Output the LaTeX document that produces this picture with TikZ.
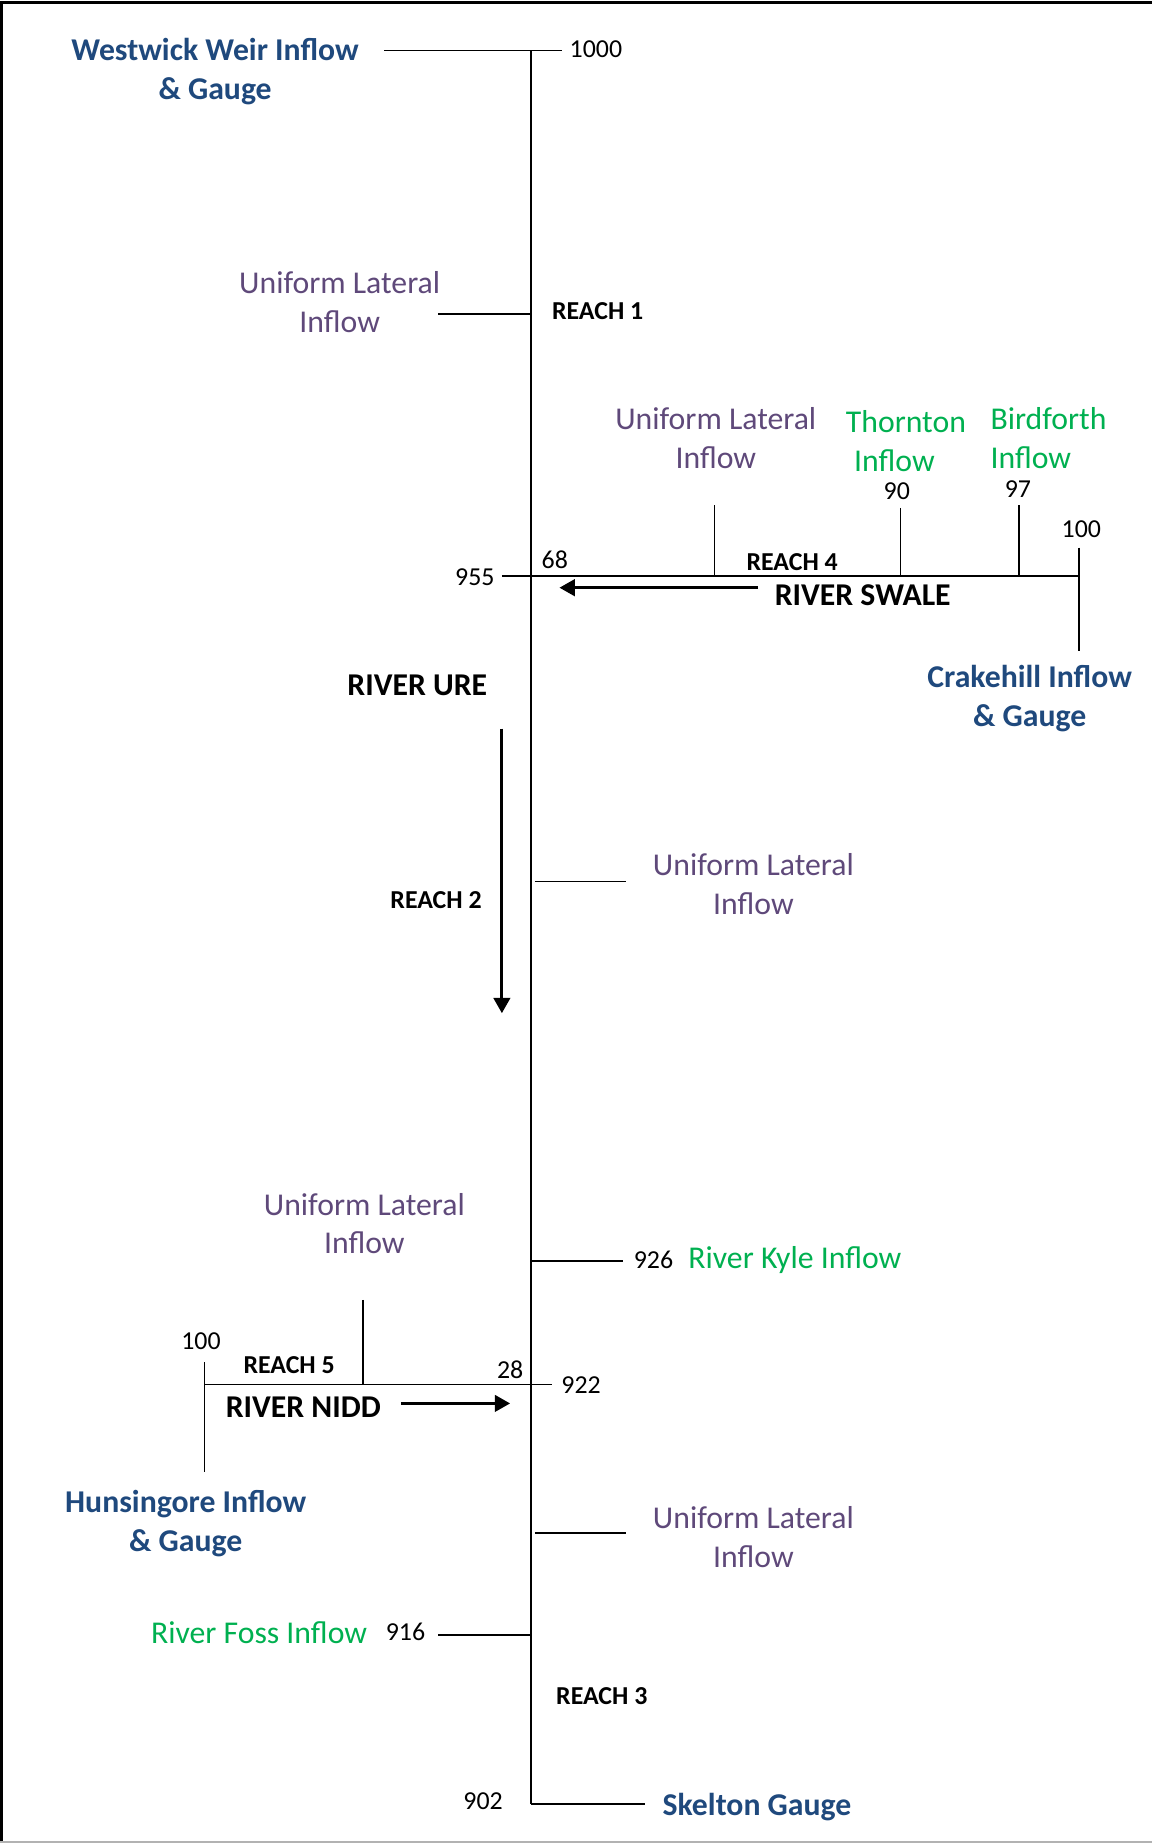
\documentclass[tikz,border=0pt]{standalone}
\usepackage{fontspec}
\setmainfont{Carlito}
\usetikzlibrary{arrows.meta,positioning}

\definecolor{gaugeblue}{RGB}{31,73,125}
\definecolor{lateralpurple}{RGB}{95,73,122}
\definecolor{inflowgreen}{RGB}{0,176,80}

\tikzset{
  gauge/.style={text=gaugeblue, font=\fontsize{13.5}{16.5}\selectfont\bfseries, align=center, inner sep=0pt},
  lateral/.style={text=lateralpurple, font=\fontsize{13.5}{16.5}\selectfont, align=center, inner sep=0pt},
  trib/.style={text=inflowgreen, font=\fontsize{13.5}{16.5}\selectfont, align=left, inner sep=0pt},
  chain/.style={font=\fontsize{11}{13}\selectfont, inner sep=0pt},
  reach/.style={font=\fontsize{11}{13}\selectfont\bfseries, inner sep=0pt},
  river/.style={font=\fontsize{13.5}{16.5}\selectfont\bfseries, inner sep=0pt},
  flow/.style={line width=1.2pt, -{Triangle[length=6.5pt,width=7pt]}},
}

\begin{document}
\begin{tikzpicture}[x=0.5pt,y=-0.5pt,line width=0.7pt]
	\useasboundingbox (0,0) rectangle (980,1568);
	\draw[line width=1.2pt] (1,1568) -- (1,2) -- (980,2);
	\draw[gray!60,line width=0.8pt] (0,1567) -- (980,1567);

	% River Ure
	\path (183,61) node[gauge] (westwick) {Westwick Weir Inflow\\\& Gauge}
		(484,42) node[chain,anchor=west] (ch1000) {1000}
		(289,257) node[lateral] (lat1) {Uniform Lateral\\Inflow}
		(469,265) node[reach,anchor=west] (reach1) {REACH 1}
		(355,583) node[river] (ure) {RIVER URE}
		(371,766) node[reach] (reach2) {REACH 2}
		(641,752) node[lateral] (lat2) {Uniform Lateral\\Inflow}
		(556,1072) node[chain] (ch926) {926}
		(585,1072) node[trib,anchor=west] (kyle) {River Kyle Inflow}
		(641,1308) node[lateral] (lat3) {Uniform Lateral\\Inflow}
		(345,1388) node[chain] (ch916) {916}
		(313,1389) node[trib,anchor=east] (foss) {River Foss Inflow}
		(512,1443) node[reach] (reach3) {REACH 3}
		(411,1532) node[chain] (ch902) {902}
		(644,1537) node[gauge] (skelton) {Skelton Gauge};

	% River Swale
	\path (404,491) node[chain] (ch955) {955}
		(472,476) node[chain] (ch68) {68}
		(609,373) node[lateral] (latsw) {Uniform Lateral\\Inflow}
		(719,375) node[trib,anchor=west] (thornton) {Thornton\\\hspace*{3.5pt}Inflow}
		(842,373) node[trib,anchor=west] (birdforth) {Birdforth\\Inflow}
		(763,418) node[chain] (ch90) {90}
		(866,416) node[chain] (ch97) {97}
		(920,450) node[chain] (ch100s) {100}
		(876,594) node[gauge] (crakehill) {Crakehill Inflow\\\& Gauge}
		(674,478) node[reach] (reach4) {REACH 4}
		(734,506) node[river] (swale) {RIVER SWALE};

	% River Nidd
	\path (310,1041) node[lateral] (latni) {Uniform Lateral\\Inflow}
		(171,1141) node[chain] (ch100n) {100}
		(246,1161) node[reach] (reach5) {REACH 5}
		(434,1165) node[chain] (ch28) {28}
		(477,1178) node[chain,anchor=west] (ch922) {922}
		(258,1197) node[river] (nidd) {RIVER NIDD}
		(158,1296) node[gauge] (hunsingore) {Hunsingore Inflow\\\& Gauge};

	\coordinate (top) at (452,43);
	\coordinate (bot) at (452,1535);
	\coordinate (swj) at (452,490);
	\coordinate (nij) at (452,1178);

	\draw (top) -- (bot);
	\draw (327,43) coordinate (ww) -- (top) -- (478,43) coordinate (t1000);
	\draw (373,267) coordinate (l1) -- (452,267) coordinate (l1j);
	\draw (455,750) coordinate (l2j) -- (533,750) coordinate (l2);
	\draw (452,1073) coordinate (kj) -- (530,1073) coordinate (k);
	\draw (455,1304) coordinate (l3j) -- (533,1304) coordinate (l3);
	\draw (373,1391) coordinate (f) -- (452,1391) coordinate (fj);
	\draw (bot) -- (549,1535) coordinate (sk);

	\draw (427,490) coordinate (t955) -- (swj) -- (918,490) coordinate (swe);
	\draw (608,430) coordinate (lsw) -- (608,490) coordinate (lswj);
	\draw (766,432) coordinate (th) -- (766,490) coordinate (thj);
	\draw (867,430) coordinate (bf) -- (867,490) coordinate (bfj);
	\draw (918,466) coordinate (ck1) -- (918,554) coordinate (ck2);

	\draw (174,1178) coordinate (nie) -- (nij) -- (470,1178) coordinate (t922);
	\draw (309,1106) coordinate (lni) -- (309,1178) coordinate (lnij);
	\draw (174,1159) coordinate (hu1) -- (174,1252) coordinate (hu2);

	\draw[flow] (645,500) coordinate (sa) -- (476,500) coordinate (sb);
	\draw[flow] (427,620) coordinate (ua) -- (427,862) coordinate (ub);
	\draw[flow] (341,1194) coordinate (na) -- (434,1194) coordinate (nb);
\end{tikzpicture}
\end{document}
